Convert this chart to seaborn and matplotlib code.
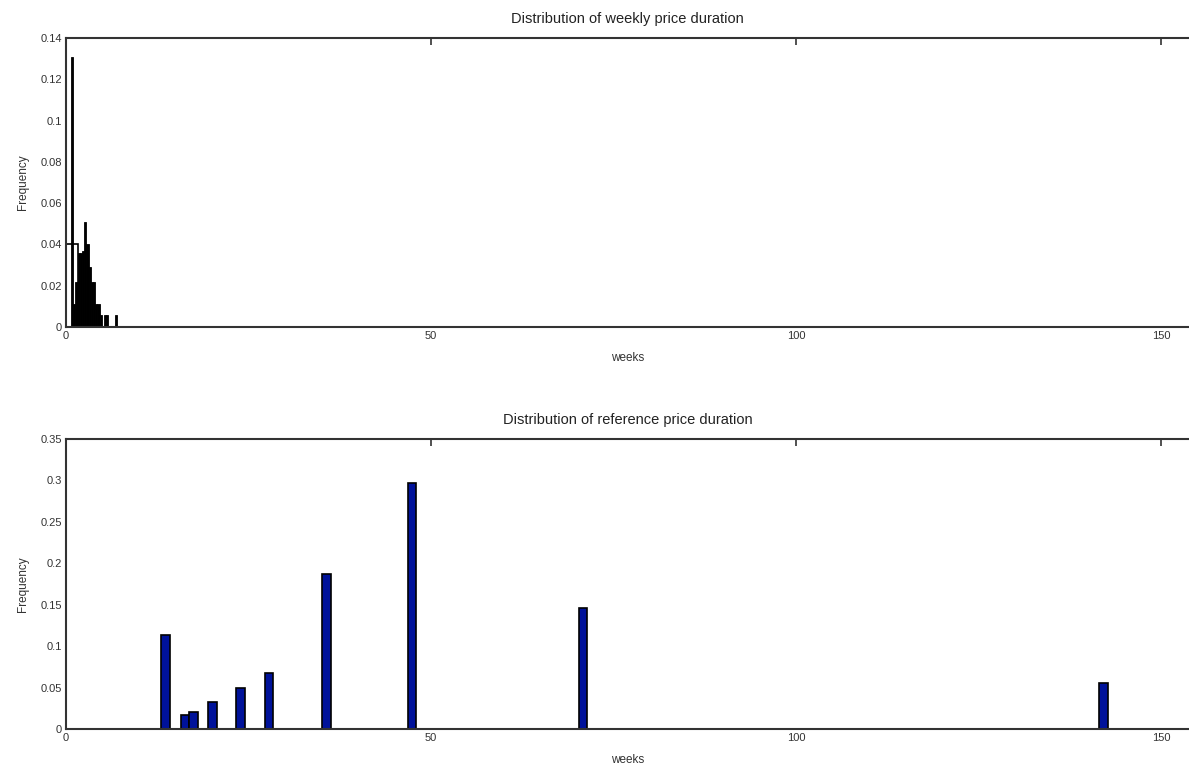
import numpy as np
import pandas as pd
import matplotlib
matplotlib.use("Agg")
import matplotlib.pyplot as plt
import seaborn as sns
from matplotlib.ticker import FuncFormatter

# weekly price duration (weeks, frequency)
weekly_weeks = [0.85, 1.15, 1.45, 1.75, 2.05, 2.35, 2.65, 2.95, 3.25, 3.55, 3.85,
                4.15, 4.45, 4.75, 5.35, 5.65, 6.85]
weekly_freq = [0.131, 0.011, 0.022, 0.036, 0.036, 0.037, 0.051, 0.040, 0.029, 0.022, 0.022,
               0.011, 0.011, 0.006, 0.006, 0.006, 0.006]
# hollow outline bar near zero
outline_week = 0.82
outline_freq = 0.04

# reference price duration
ref_weeks = [13.6, 16.3, 17.5, 20.1, 23.9, 27.8, 35.7, 47.4, 70.8, 142.1]
ref_freq = [0.113, 0.017, 0.021, 0.033, 0.050, 0.067, 0.187, 0.297, 0.146, 0.055]

x_ticks = [0, 50, 100, 150]
top_yticks = [0, 0.02, 0.04, 0.06, 0.08, 0.1, 0.12, 0.14]
bot_yticks = [0, 0.05, 0.1, 0.15, 0.2, 0.25, 0.3, 0.35]

sns.set_style("white")
plt.rcParams['font.family'] = ['Liberation Sans', 'DejaVu Sans']

dark = '#333333'
fig = plt.figure(figsize=(11.89, 7.70), dpi=100)
ax1 = fig.add_axes([66 / 1189, 1 - 327 / 770, 1 - 66 / 1189, 289 / 770])
ax2 = fig.add_axes([66 / 1189, 1 - 729 / 770, 1 - 66 / 1189, 290 / 770])

ax1.bar(outline_week, outline_freq, width=1.64, facecolor='white', edgecolor='black',
        linewidth=1.2, zorder=1)
sns.barplot(x=weekly_weeks, y=weekly_freq, native_scale=True, width=1.0, color='black',
            edgecolor='black', linewidth=0.6, saturation=1, errorbar=None, ax=ax1, zorder=2)

sns.barplot(x=ref_weeks, y=ref_freq, native_scale=True, width=1.0, color='#00129a',
            edgecolor='black', linewidth=1.2, saturation=1, errorbar=None, ax=ax2)

fmt = FuncFormatter(lambda v, p: '%g' % v)
for ax, yt, title in [(ax1, top_yticks, 'Distribution of weekly price duration'),
                      (ax2, bot_yticks, 'Distribution of reference price duration')]:
    ax.set_xlim(0, 153.8)
    ax.set_ylim(yt[0], yt[-1])
    ax.set_xticks(x_ticks)
    ax.set_yticks(yt)
    ax.xaxis.set_major_formatter(fmt)
    ax.yaxis.set_major_formatter(fmt)
    ax.tick_params(direction='in', length=5, width=1.2, color=dark, labelcolor=dark,
                   labelsize=8, top=True, right=False, pad=3)
    for s in ['left', 'bottom', 'top']:
        ax.spines[s].set_linewidth(1.5)
        ax.spines[s].set_color(dark)
    ax.spines['right'].set_visible(False)
    ax.set_title(title, fontsize=10.5, color='#222222', pad=11)
    ax.set_xlabel('weeks', fontsize=8.5, color=dark, labelpad=8)
    ax.set_ylabel('Frequency', fontsize=8.5, color=dark, labelpad=8)

fig.savefig('out.png', dpi=100)
